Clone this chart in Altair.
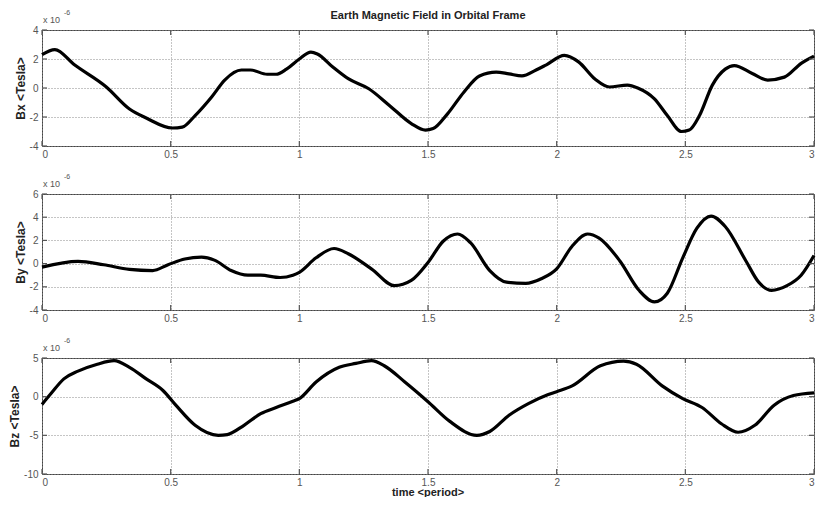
import altair as alt
import pandas as pd

# ---------------- data (values in units of 1e-6 Tesla) ----------------
bx_t = [0, 0.05, 0.126, 0.25, 0.34, 0.405, 0.507, 0.545, 0.595, 0.66, 0.71, 0.775, 0.81, 0.875, 0.91,
        0.95, 1.0, 1.045, 1.07, 1.13, 1.19, 1.27, 1.35, 1.435, 1.49, 1.52, 1.575, 1.64, 1.70, 1.765,
        1.815, 1.865, 1.92, 1.96, 2.03, 2.085, 2.15, 2.205, 2.275, 2.315, 2.38, 2.43, 2.485, 2.515,
        2.555, 2.605, 2.655, 2.69, 2.76, 2.82, 2.885, 2.95, 3.0]
bx_v = [2.3, 2.65, 1.6, 0.07, -1.45, -2.07, -2.76, -2.7, -1.9, -0.6, 0.55, 1.24, 1.24, 0.95, 0.95,
        1.3, 2.0, 2.48, 2.35, 1.45, 0.64, -0.05, -1.2, -2.45, -2.9, -2.8, -1.8, -0.27, 0.83, 1.1,
        0.97, 0.83, 1.24, 1.6, 2.25, 1.8, 0.6, 0.07, 0.2, 0.0, -0.75, -1.9, -3.0, -2.9,
        -1.9, 0.2, 1.3, 1.55, 1.0, 0.55, 0.75, 1.7, 2.2]

by_t = [0, 0.14, 0.24, 0.34, 0.43, 0.49, 0.555, 0.62, 0.67, 0.735, 0.80, 0.85, 0.925, 0.975, 1.0,
        1.065, 1.135, 1.19, 1.28, 1.37, 1.435, 1.50, 1.56, 1.615, 1.665, 1.74, 1.805, 1.88, 1.94,
        2.0, 2.06, 2.12, 2.165, 2.245, 2.32, 2.38, 2.43, 2.49, 2.545, 2.60, 2.655, 2.735, 2.785,
        2.835, 2.895, 2.95, 3.0]
by_v = [-0.3, 0.2, -0.1, -0.5, -0.6, -0.1, 0.4, 0.55, 0.3, -0.6, -1.0, -1.0, -1.2, -1.0, -0.75,
        0.5, 1.3, 0.85, -0.45, -1.9, -1.45, 0.1, 1.95, 2.55, 1.8, -0.6, -1.6, -1.7, -1.3,
        -0.45, 1.5, 2.55, 2.2, 0.25, -2.3, -3.3, -2.55, 0.5, 3.05, 4.1, 3.2, 0.25, -1.6,
        -2.3, -1.9, -1.0, 0.7]

bz_t = [0, 0.035, 0.085, 0.14, 0.215, 0.28, 0.34, 0.405, 0.47, 0.52, 0.595, 0.685, 0.72, 0.785,
        0.85, 0.91, 0.975, 1.0, 1.065, 1.155, 1.22, 1.28, 1.33, 1.41, 1.50, 1.585, 1.69, 1.74,
        1.815, 1.89, 1.965, 2.0, 2.06, 2.17, 2.26, 2.31, 2.41, 2.49, 2.565, 2.64, 2.705, 2.77,
        2.845, 2.92, 3.0]
bz_v = [-1.0, 0.4, 2.3, 3.3, 4.2, 4.65, 3.8, 2.3, 0.8, -1.1, -3.7, -5.0, -4.9, -3.7,
        -2.2, -1.4, -0.6, -0.25, 1.9, 3.8, 4.3, 4.65, 4.0, 1.9, -0.65, -3.2, -5.0, -4.5,
        -2.4, -0.9, 0.25, 0.65, 1.4, 4.0, 4.6, 4.2, 1.4, -0.25, -1.4, -3.5, -4.6, -3.7,
        -1.1, 0.15, 0.5]

x_ticks = [0, 0.5, 1, 1.5, 2, 2.5, 3]
bx_ticks = [-4, -2, 0, 2, 4]
by_ticks = [-4, -2, 0, 2, 4, 6]
bz_ticks = [-10, -5, 0, 5]

title_text = ["Earth Magnetic Field in Orbital Frame"]
x_title = ["time <period>"]
exp_base = ["x 10"]
exp_power = ["-6"]

FONT = "Liberation Sans"
W, H = 772, 116
SPACING = 48
TICK = 5


def panel(t, v, ylabel, yticks, first=False, last=False):
    xs = alt.Scale(domain=[0, 3], nice=False, zero=False)
    ys = alt.Scale(domain=[yticks[0], yticks[-1]], nice=False, zero=False)
    xaxis = alt.Axis(values=x_ticks, labelExpr="toString(datum.value)", grid=True, gridDash=[1, 2],
                     gridColor="#8a8a8a", gridWidth=1, tickSize=0, domain=False, labelPadding=3,
                     labelOverlap=False, labelColor="#555", labelFontSize=10, labelFont=FONT)
    yaxis = alt.Axis(values=yticks, labelExpr="toString(datum.value)", grid=True, gridDash=[1, 2],
                     gridColor="#8a8a8a", gridWidth=1, tickSize=0, domain=False, labelPadding=4,
                     labelOverlap=False, labelColor="#555", labelFontSize=10, labelFont=FONT,
                     titleFont=FONT, titleFontSize=12, titleFontWeight="bold",
                     titleColor="#222", titlePadding=2)
    X = alt.X("t:Q", scale=xs, axis=xaxis, title="")
    Y = alt.Y("v:Q", scale=ys, axis=yaxis, title=ylabel)
    df = pd.DataFrame({"t": t, "v": v})
    line = alt.Chart(df).mark_line(color="black", strokeWidth=3.2, interpolate="monotone").encode(
        x=X, y=Y)
    dx = pd.DataFrame({"t": x_ticks})
    dy = pd.DataFrame({"v": yticks})
    tk = dict(color="#555", strokeWidth=1.2)
    xt_top = alt.Chart(dx).mark_rule(**tk).encode(x=X, y=alt.value(0), y2=alt.value(TICK))
    xt_bot = alt.Chart(dx).mark_rule(**tk).encode(x=X, y=alt.value(H - TICK), y2=alt.value(H))
    yt_l = alt.Chart(dy).mark_rule(**tk).encode(y=Y, x=alt.value(0), x2=alt.value(TICK))
    yt_r = alt.Chart(dy).mark_rule(**tk).encode(y=Y, x=alt.value(W - TICK), x2=alt.value(W))
    eb = alt.Chart(pd.DataFrame({"s": exp_base})).mark_text(
        align="left", baseline="middle", fontSize=9, font=FONT, color="#555").encode(
        text="s:N", x=alt.value(1), y=alt.value(-10))
    ep = alt.Chart(pd.DataFrame({"s": exp_power})).mark_text(
        align="left", baseline="middle", fontSize=7, font=FONT, color="#555").encode(
        text="s:N", x=alt.value(22), y=alt.value(-17))
    layers = [line, xt_top, xt_bot, yt_l, yt_r, eb, ep]
    if first:
        layers.append(alt.Chart(pd.DataFrame({"s": title_text})).mark_text(
            align="center", baseline="middle", fontSize=11, fontWeight="bold", font=FONT,
            color="#222").encode(text="s:N", x=alt.value(W / 2), y=alt.value(-14)))
    if last:
        layers.append(alt.Chart(pd.DataFrame({"s": x_title})).mark_text(
            align="center", baseline="middle", fontSize=11, fontWeight="bold", font=FONT,
            color="#222").encode(text="s:N", x=alt.value(W / 2), y=alt.value(H + 19)))
    return alt.layer(*layers).properties(width=W, height=H)


p1 = panel(bx_t, bx_v, "Bx <Tesla>", bx_ticks, first=True)
p2 = panel(by_t, by_v, "By <Tesla>", by_ticks)
p3 = panel(bz_t, bz_v, "Bz <Tesla>", bz_ticks, last=True)

chart = alt.vconcat(p1, p2, p3, spacing=SPACING, bounds="flush").properties(
    padding={"left": 0, "top": 0, "right": -4, "bottom": -2},
).configure_view(stroke="#444", strokeWidth=1).configure_concat(
    spacing=SPACING).configure_axis(labelOverlap=False, labelBound=False)

chart.save("out.html", embed_options={"renderer": "svg", "actions": False})
